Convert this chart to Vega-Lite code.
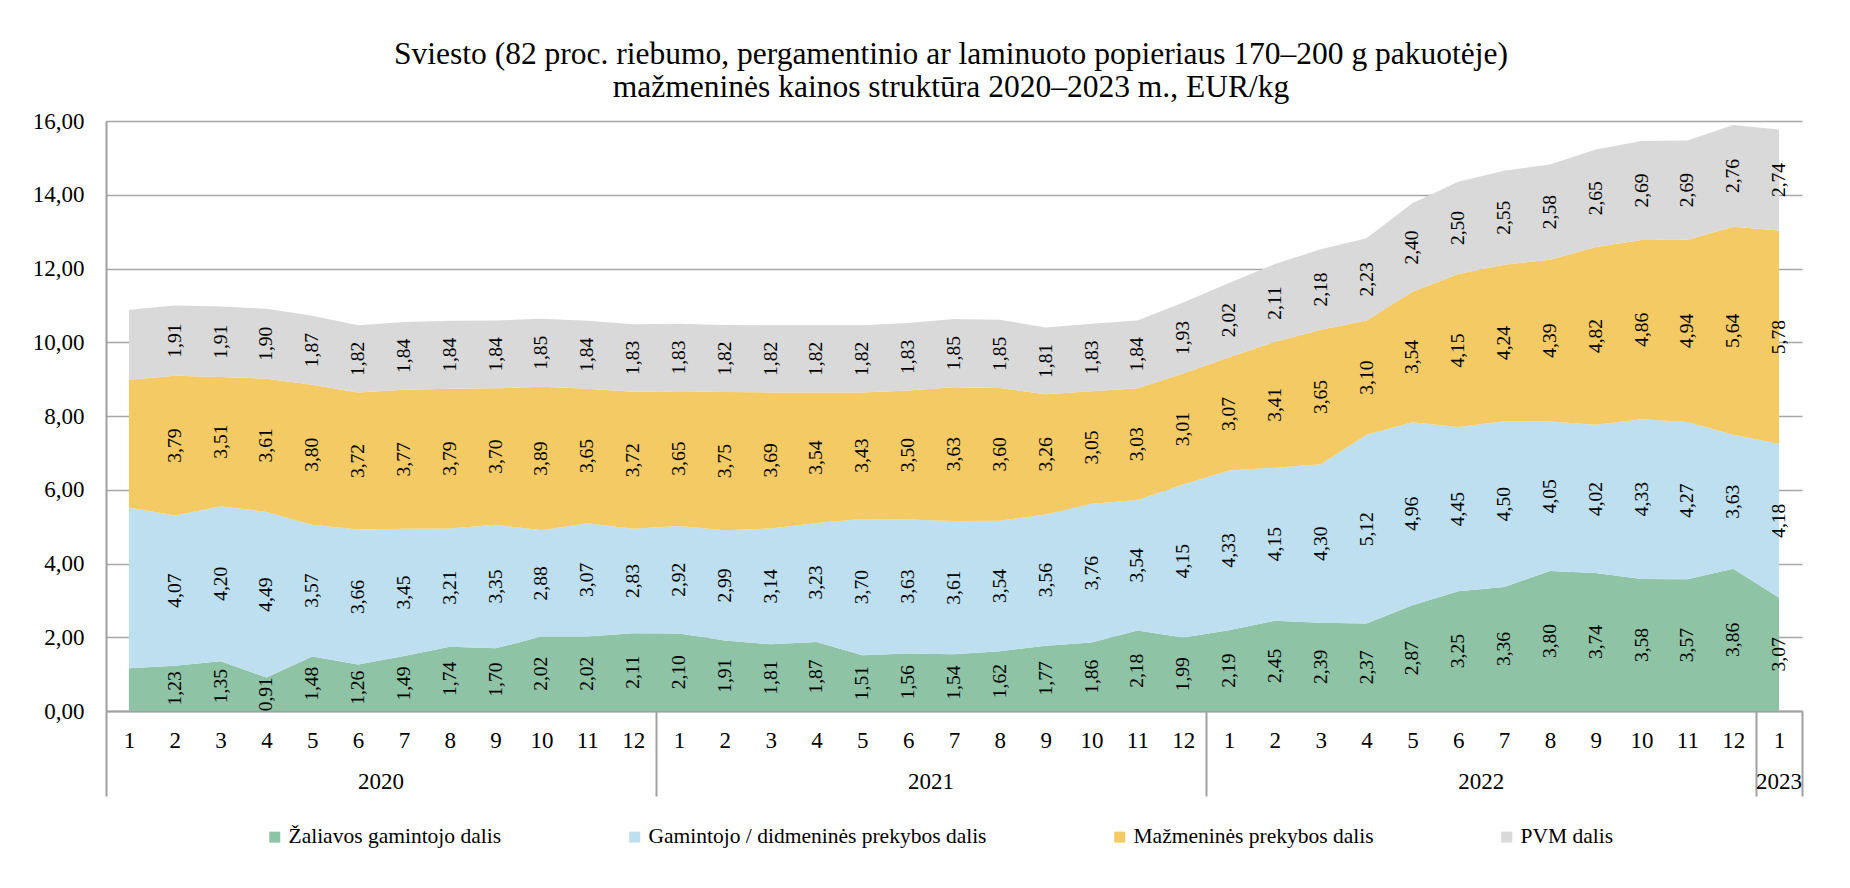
{
  "$schema": "https://vega.github.io/schema/vega-lite/v6.json",
  "autosize": "none",
  "width": 1696,
  "height": 590,
  "padding": {"left": 106, "top": 121, "right": 48, "bottom": 177},
  "background": "white",
  "config": {
    "font": "Liberation Serif",
    "view": {"stroke": null},
    "locale": {"number": {"decimal": ",", "thousands": " ", "grouping": [3], "currency": ["", " €"]}},
    "axis": {"labelFont": "Liberation Serif", "labelColor": "#000000", "gridColor": "#a6a6a6", "gridWidth": 1.4, "domainColor": "#a0a0a0", "domainWidth": 2, "tickColor": "#a0a0a0"}
  },
  "title": {
    "text": ["Sviesto (82 proc. riebumo, pergamentinio ar laminuoto popieriaus 170–200 g pakuotėje)", "mažmeninės kainos struktūra 2020–2023 m., EUR/kg"],
    "font": "Liberation Serif", "fontSize": 31.5, "fontWeight": "normal", "color": "#000000",
    "lineHeight": 33, "anchor": "middle", "frame": "group", "offset": 7, "dx": -3
  },
  "datasets": {
    "ser": [
      {"k": 1, "s": "Žaliavos gamintojo dalis"},
      {"k": 2, "s": "Gamintojo / didmeninės prekybos dalis"},
      {"k": 3, "s": "Mažmeninės prekybos dalis"},
      {"k": 4, "s": "PVM dalis"}
    ],
    "rows": [
      {"i":0,"yr":"2020","k":1,"v":1.16},{"i":1,"yr":"2020","k":1,"v":1.23},{"i":2,"yr":"2020","k":1,"v":1.35},{"i":3,"yr":"2020","k":1,"v":0.91},{"i":4,"yr":"2020","k":1,"v":1.48},{"i":5,"yr":"2020","k":1,"v":1.26},{"i":6,"yr":"2020","k":1,"v":1.49},{"i":7,"yr":"2020","k":1,"v":1.74},{"i":8,"yr":"2020","k":1,"v":1.70},{"i":9,"yr":"2020","k":1,"v":2.02},{"i":10,"yr":"2020","k":1,"v":2.02},{"i":11,"yr":"2020","k":1,"v":2.11},
      {"i":12,"yr":"2021","k":1,"v":2.10},{"i":13,"yr":"2021","k":1,"v":1.91},{"i":14,"yr":"2021","k":1,"v":1.81},{"i":15,"yr":"2021","k":1,"v":1.87},{"i":16,"yr":"2021","k":1,"v":1.51},{"i":17,"yr":"2021","k":1,"v":1.56},{"i":18,"yr":"2021","k":1,"v":1.54},{"i":19,"yr":"2021","k":1,"v":1.62},{"i":20,"yr":"2021","k":1,"v":1.77},{"i":21,"yr":"2021","k":1,"v":1.86},{"i":22,"yr":"2021","k":1,"v":2.18},{"i":23,"yr":"2021","k":1,"v":1.99},
      {"i":24,"yr":"2022","k":1,"v":2.19},{"i":25,"yr":"2022","k":1,"v":2.45},{"i":26,"yr":"2022","k":1,"v":2.39},{"i":27,"yr":"2022","k":1,"v":2.37},{"i":28,"yr":"2022","k":1,"v":2.87},{"i":29,"yr":"2022","k":1,"v":3.25},{"i":30,"yr":"2022","k":1,"v":3.36},{"i":31,"yr":"2022","k":1,"v":3.80},{"i":32,"yr":"2022","k":1,"v":3.74},{"i":33,"yr":"2022","k":1,"v":3.58},{"i":34,"yr":"2022","k":1,"v":3.57},{"i":35,"yr":"2022","k":1,"v":3.86},
      {"i":36,"yr":"2023","k":1,"v":3.07},
      {"i":0,"yr":"2020","k":2,"v":4.36},{"i":1,"yr":"2020","k":2,"v":4.07},{"i":2,"yr":"2020","k":2,"v":4.20},{"i":3,"yr":"2020","k":2,"v":4.49},{"i":4,"yr":"2020","k":2,"v":3.57},{"i":5,"yr":"2020","k":2,"v":3.66},{"i":6,"yr":"2020","k":2,"v":3.45},{"i":7,"yr":"2020","k":2,"v":3.21},{"i":8,"yr":"2020","k":2,"v":3.35},{"i":9,"yr":"2020","k":2,"v":2.88},{"i":10,"yr":"2020","k":2,"v":3.07},{"i":11,"yr":"2020","k":2,"v":2.83},
      {"i":12,"yr":"2021","k":2,"v":2.92},{"i":13,"yr":"2021","k":2,"v":2.99},{"i":14,"yr":"2021","k":2,"v":3.14},{"i":15,"yr":"2021","k":2,"v":3.23},{"i":16,"yr":"2021","k":2,"v":3.70},{"i":17,"yr":"2021","k":2,"v":3.63},{"i":18,"yr":"2021","k":2,"v":3.61},{"i":19,"yr":"2021","k":2,"v":3.54},{"i":20,"yr":"2021","k":2,"v":3.56},{"i":21,"yr":"2021","k":2,"v":3.76},{"i":22,"yr":"2021","k":2,"v":3.54},{"i":23,"yr":"2021","k":2,"v":4.15},
      {"i":24,"yr":"2022","k":2,"v":4.33},{"i":25,"yr":"2022","k":2,"v":4.15},{"i":26,"yr":"2022","k":2,"v":4.30},{"i":27,"yr":"2022","k":2,"v":5.12},{"i":28,"yr":"2022","k":2,"v":4.96},{"i":29,"yr":"2022","k":2,"v":4.45},{"i":30,"yr":"2022","k":2,"v":4.50},{"i":31,"yr":"2022","k":2,"v":4.05},{"i":32,"yr":"2022","k":2,"v":4.02},{"i":33,"yr":"2022","k":2,"v":4.33},{"i":34,"yr":"2022","k":2,"v":4.27},{"i":35,"yr":"2022","k":2,"v":3.63},
      {"i":36,"yr":"2023","k":2,"v":4.18},
      {"i":0,"yr":"2020","k":3,"v":3.46},{"i":1,"yr":"2020","k":3,"v":3.79},{"i":2,"yr":"2020","k":3,"v":3.51},{"i":3,"yr":"2020","k":3,"v":3.61},{"i":4,"yr":"2020","k":3,"v":3.80},{"i":5,"yr":"2020","k":3,"v":3.72},{"i":6,"yr":"2020","k":3,"v":3.77},{"i":7,"yr":"2020","k":3,"v":3.79},{"i":8,"yr":"2020","k":3,"v":3.70},{"i":9,"yr":"2020","k":3,"v":3.89},{"i":10,"yr":"2020","k":3,"v":3.65},{"i":11,"yr":"2020","k":3,"v":3.72},
      {"i":12,"yr":"2021","k":3,"v":3.65},{"i":13,"yr":"2021","k":3,"v":3.75},{"i":14,"yr":"2021","k":3,"v":3.69},{"i":15,"yr":"2021","k":3,"v":3.54},{"i":16,"yr":"2021","k":3,"v":3.43},{"i":17,"yr":"2021","k":3,"v":3.50},{"i":18,"yr":"2021","k":3,"v":3.63},{"i":19,"yr":"2021","k":3,"v":3.60},{"i":20,"yr":"2021","k":3,"v":3.26},{"i":21,"yr":"2021","k":3,"v":3.05},{"i":22,"yr":"2021","k":3,"v":3.03},{"i":23,"yr":"2021","k":3,"v":3.01},
      {"i":24,"yr":"2022","k":3,"v":3.07},{"i":25,"yr":"2022","k":3,"v":3.41},{"i":26,"yr":"2022","k":3,"v":3.65},{"i":27,"yr":"2022","k":3,"v":3.10},{"i":28,"yr":"2022","k":3,"v":3.54},{"i":29,"yr":"2022","k":3,"v":4.15},{"i":30,"yr":"2022","k":3,"v":4.24},{"i":31,"yr":"2022","k":3,"v":4.39},{"i":32,"yr":"2022","k":3,"v":4.82},{"i":33,"yr":"2022","k":3,"v":4.86},{"i":34,"yr":"2022","k":3,"v":4.94},{"i":35,"yr":"2022","k":3,"v":5.64},
      {"i":36,"yr":"2023","k":3,"v":5.78},
      {"i":0,"yr":"2020","k":4,"v":1.90},{"i":1,"yr":"2020","k":4,"v":1.91},{"i":2,"yr":"2020","k":4,"v":1.91},{"i":3,"yr":"2020","k":4,"v":1.90},{"i":4,"yr":"2020","k":4,"v":1.87},{"i":5,"yr":"2020","k":4,"v":1.82},{"i":6,"yr":"2020","k":4,"v":1.84},{"i":7,"yr":"2020","k":4,"v":1.84},{"i":8,"yr":"2020","k":4,"v":1.84},{"i":9,"yr":"2020","k":4,"v":1.85},{"i":10,"yr":"2020","k":4,"v":1.84},{"i":11,"yr":"2020","k":4,"v":1.83},
      {"i":12,"yr":"2021","k":4,"v":1.83},{"i":13,"yr":"2021","k":4,"v":1.82},{"i":14,"yr":"2021","k":4,"v":1.82},{"i":15,"yr":"2021","k":4,"v":1.82},{"i":16,"yr":"2021","k":4,"v":1.82},{"i":17,"yr":"2021","k":4,"v":1.83},{"i":18,"yr":"2021","k":4,"v":1.85},{"i":19,"yr":"2021","k":4,"v":1.85},{"i":20,"yr":"2021","k":4,"v":1.81},{"i":21,"yr":"2021","k":4,"v":1.83},{"i":22,"yr":"2021","k":4,"v":1.84},{"i":23,"yr":"2021","k":4,"v":1.93},
      {"i":24,"yr":"2022","k":4,"v":2.02},{"i":25,"yr":"2022","k":4,"v":2.11},{"i":26,"yr":"2022","k":4,"v":2.18},{"i":27,"yr":"2022","k":4,"v":2.23},{"i":28,"yr":"2022","k":4,"v":2.40},{"i":29,"yr":"2022","k":4,"v":2.50},{"i":30,"yr":"2022","k":4,"v":2.55},{"i":31,"yr":"2022","k":4,"v":2.58},{"i":32,"yr":"2022","k":4,"v":2.65},{"i":33,"yr":"2022","k":4,"v":2.69},{"i":34,"yr":"2022","k":4,"v":2.69},{"i":35,"yr":"2022","k":4,"v":2.76},
      {"i":36,"yr":"2023","k":4,"v":2.74}
    ]
  },
  "data": {"name": "rows"},
  "transform": [
    {"lookup": "k", "from": {"data": {"name": "ser"}, "key": "k", "fields": ["s"]}}
  ],
  "resolve": {"scale": {"x": "shared", "y": "shared"}, "axis": {"x": "independent", "y": "shared"}},
  "layer": [
    {
      "mark": {"type": "area", "opacity": 1, "interpolate": "linear"},
      "encoding": {
        "x": {
          "field": "i", "type": "quantitative",
          "scale": {"domain": [-0.5, 36.5], "nice": false, "zero": false},
          "axis": {
            "orient": "bottom",
            "title": null, "grid": false, "ticks": false, "tickSize": 0,
            "values": [0,1,2,3,4,5,6,7,8,9,10,11,12,13,14,15,16,17,18,19,20,21,22,23,24,25,26,27,28,29,30,31,32,33,34,35,36],
            "labelExpr": "'' + ((datum.value % 12) + 1)",
            "labelFontSize": 23, "labelPadding": 18, "labelFlush": false, "labelOverlap": false,
            "domain": true
          }
        },
        "y": {
          "field": "v", "type": "quantitative", "stack": "zero", "title": null,
          "scale": {"domain": [0, 16], "nice": false},
          "axis": {
            "values": [0, 2, 4, 6, 8, 10, 12, 14, 16], "format": ".2f",
            "grid": true, "ticks": false, "tickSize": 0, "domain": true,
            "labelFontSize": 23, "labelPadding": 22
          }
        },
        "color": {
          "field": "s", "type": "nominal", "title": null,
          "scale": {
            "domain": ["Žaliavos gamintojo dalis", "Gamintojo / didmeninės prekybos dalis", "Mažmeninės prekybos dalis", "PVM dalis"],
            "range": ["#8fc3a5", "#bddfef", "#f4ca65", "#d9d9d9"]
          },
          "legend": {
            "orient": "none", "legendX": 158, "legendY": 705, "direction": "horizontal", "columns": 4,
            "columnPadding": 122, "padding": 0, "symbolType": "square", "symbolSize": 121,
            "symbolStrokeWidth": 0, "symbolOpacity": 1, "labelOffset": 3, "labelLimit": 1000,
            "labelFont": "Liberation Serif", "labelFontSize": 21.5, "labelColor": "#000000"
          }
        },
        "order": {"field": "k", "type": "quantitative", "sort": "ascending"}
      }
    },
    {
      "transform": [
        {"filter": "datum.i > 0"},
        {"stack": "v", "groupby": ["i"], "sort": [{"field": "k", "order": "ascending"}], "as": ["y0", "y1"]},
        {"fold": ["y0", "y1"], "as": ["edge", "pos"]},
        {"aggregate": [{"op": "mean", "field": "pos", "as": "mid"}, {"op": "mean", "field": "v", "as": "val"}], "groupby": ["i", "k"]}
      ],
      "mark": {"type": "text", "angle": 270, "align": "center", "baseline": "middle", "font": "Liberation Serif", "fontSize": 19.5, "color": "#000000"},
      "encoding": {
        "x": {
          "field": "i", "type": "quantitative",
          "axis": {
            "orient": "bottom",
            "title": null, "grid": false, "labels": false, "domain": false, "ticks": true,
            "values": [-0.5, 11.5, 23.5, 35.5, 36.5], "tickSize": 85, "tickWidth": 2, "tickColor": "#a0a0a0"
          }
        },
        "y": {"field": "mid", "type": "quantitative", "title": null},
        "text": {"field": "val", "type": "quantitative", "format": ".2f"}
      }
    },
    {
      "transform": [
        {"aggregate": [{"op": "mean", "field": "i", "as": "center"}], "groupby": ["yr"]}
      ],
      "mark": {"type": "text", "align": "center", "baseline": "middle", "dy": 71, "font": "Liberation Serif", "fontSize": 23, "color": "#000000"},
      "encoding": {
        "x": {"field": "center", "type": "quantitative", "axis": null},
        "y": {"datum": 0, "type": "quantitative", "title": null},
        "text": {"field": "yr", "type": "nominal"}
      }
    }
  ]
}
